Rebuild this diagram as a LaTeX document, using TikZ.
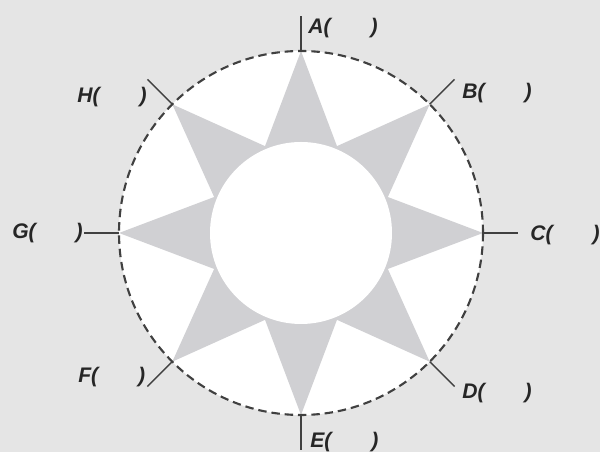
\documentclass[tikz,border=0pt]{standalone}
\usepackage{fontspec}
\setmainfont{Liberation Sans}

\definecolor{bggray}{gray}{0.9}
\definecolor{raygray}{RGB}{208,208,211}
\definecolor{linegray}{gray}{0.25}

\begin{document}
\begin{tikzpicture}[
    lab/.style={inner sep=0pt, anchor=west, text=black!85,
        font=\fontsize{15}{17}\selectfont\bfseries\itshape},
    tickline/.style={linegray, line width=1pt},
    rim/.style={linegray, line width=1.5pt, dash pattern=on 6pt off 3.5pt}
]

    % Background
    \fill[bggray] (0,0) rectangle (15,11.3);
    \useasboundingbox (0,0) rectangle (15,11.3);

    \begin{scope}[shift={(7.525,5.475)}]
        % White disc
        \fill[white] (0,0) circle (4.55);

        % Star rays
        \fill[raygray] (90:4.55)
            \foreach \a in {90,45,...,-225} { -- (\a:4.55) -- (\a-22.5:2.35) }
            -- cycle;

        % Inner disc
        \fill[white] (0,0) circle (2.275);

        % Dashed rim
        \draw[rim] (0,0) circle (4.55);

        % Ticks
        \foreach \a in {90,45,...,-225}
            \draw[tickline] (\a:4.55) -- (\a:5.43);
    \end{scope}

    % Labels
    \node[lab] (labA) at (7.70,10.60) {A(\hspace{1.0cm})};
    \node[lab] (labB) at (11.55,8.975) {B(\hspace{1.0cm})};
    \node[lab] (labC) at (13.25,5.425) {C(\hspace{1.0cm})};
    \node[lab] (labD) at (11.55,1.475) {D(\hspace{1.0cm})};
    \node[lab] (labE) at (7.75,0.25) {E(\hspace{1.0cm})};
    \node[lab] (labF) at (1.95,1.875) {F(\hspace{1.0cm})};
    \node[lab, anchor=east] (labG) at (2.075,5.475) {G(\hspace{1.0cm})};
    \node[lab] (labH) at (1.925,8.875) {H(\hspace{1.0cm})};

\end{tikzpicture}
\end{document}
